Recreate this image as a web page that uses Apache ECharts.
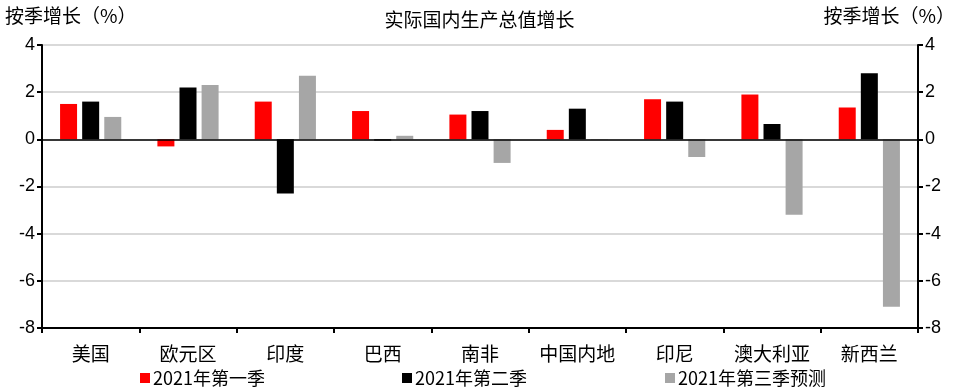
<!DOCTYPE html>
<html><head><meta charset="utf-8">
<script src="https://cdn.jsdelivr.net/npm/echarts@6/dist/echarts.min.js"></script>
<style>html,body{margin:0;padding:0;background:#fff}#c{width:959px;height:392px}</style>
</head><body><div id="c"></div>
<script>
const categories = ['美国','欧元区','印度','巴西','南非','中国内地','印尼','澳大利亚','新西兰'];
const q1 = [1.5, -0.3, 1.6, 1.2, 1.05, 0.4, 1.7, 1.9, 1.35];
const q2 = [1.6, 2.2, -2.3, -0.05, 1.2, 1.3, 1.6, 0.65, 2.8];
const q3f = [0.95, 2.3, 2.7, 0.15, -1.0, -0.02, -0.75, -3.2, -7.1];
const seriesNames = ['2021年第一季','2021年第二季','2021年第三季预测'];
const colors = ['#ff0000','#000000','#a6a6a6'];
const yMin = -8, yMax = 4, yStep = 2;

const numFont = "'Liberation Sans Narrow','Arial Narrow','Liberation Sans',Arial,sans-serif";
const cjkFont = "'Liberation Sans Narrow','Noto Sans CJK SC',sans-serif";

const chart = echarts.init(document.getElementById('c'), null, {renderer:'canvas'});
const yAxisBase = (pos) => ({
  type:'value', position:pos, min:yMin, max:yMax, interval:yStep,
  axisLine:{show:true, lineStyle:{color:'#000', width:2}},
  axisTick:{show:true, inside:false, length:5, lineStyle:{color:'#000', width:2}},
  axisLabel:{color:'#000', fontSize:18, fontFamily:numFont, margin:7},
  splitLine:{show: pos==='left', lineStyle:{color:'#d9d9d9', width:2}}
});
const legendPos = [135, 397, 660];
chart.setOption({
  animation:false,
  backgroundColor:'#fff',
  title:[
    {text:'实际国内生产总值增长', left:'center', top:5, textStyle:{fontSize:19, fontWeight:'normal', color:'#000', fontFamily:cjkFont}},
  ],
  graphic:[
    {type:'text', left:5, top:6, style:{text:'按季增长（%）', fontSize:19, fill:'#000', fontFamily:cjkFont}},
    {type:'text', right:4, top:6, style:{text:'按季增长（%）', fontSize:19, fill:'#000', fontFamily:cjkFont}}
  ],
  legend: seriesNames.map((n,i)=>({
    data:[n], left:legendPos[i], top:364, itemWidth:10, itemHeight:10, itemGap:5,
    icon:'rect', selectedMode:false,
    textStyle:{fontSize:18, color:'#000', fontFamily:cjkFont, padding:[0,0,0,-2]}
  })),
  grid:{left:42, right:41, top:45, bottom:64, containLabel:false},
  xAxis:{
    type:'category', data:categories, position:'bottom',
    axisLine:{show:true, onZero:false, lineStyle:{color:'#000', width:2}},
    axisTick:{show:true, length:5, lineStyle:{color:'#000', width:2}},
    axisLabel:{color:'#000', fontSize:19, fontFamily:cjkFont, margin:16, interval:0, hideOverlap:false},
    splitLine:{show:false}
  },
  yAxis:[yAxisBase('left'), yAxisBase('right')],
  series: [q1,q2,q3f].map((d,i)=>({
    name:seriesNames[i], type:'bar', data:d, yAxisIndex:0,
    barWidth:17, barGap:'30%', barCategoryGap:'37%',
    itemStyle:{color:colors[i]},
    markLine: i===0 ? {silent:true, symbol:'none', label:{show:false},
      lineStyle:{color:'#000', width:1.5, type:'solid'}, data:[{yAxis:0}]} : undefined,
    z: 3
  }))
});
</script></body></html>
